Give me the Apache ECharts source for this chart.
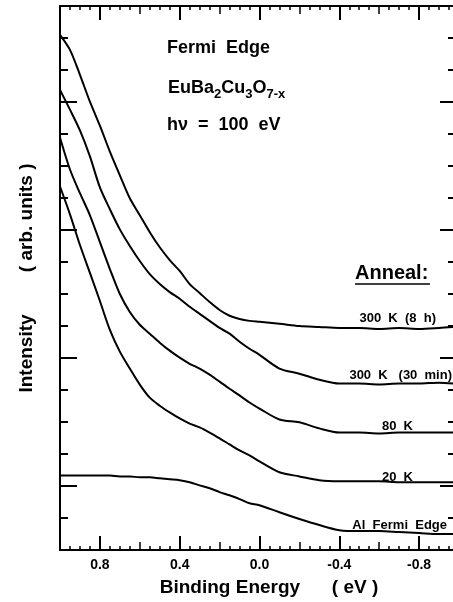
<!DOCTYPE html>
<html>
<head>
<meta charset="utf-8">
<script src="https://cdn.jsdelivr.net/npm/echarts@6/dist/echarts.min.js"></script>
<style>
html,body{margin:0;padding:0;background:#fff;}
#chart{width:453px;height:602px;}
</style>
</head>
<body>
<div id="chart"></div>
<script>
// Binding energy grid (eV)
const energies = [1.0,0.95,0.9,0.85,0.8,0.75,0.7,0.65,0.6,0.55,0.5,0.45,0.4,0.35,0.3,0.25,0.2,0.15,0.1,0.05,0.0,-0.1,-0.2,-0.3,-0.4,-0.5,-0.6,-0.7,-0.8,-0.9,-0.97];
// Intensity (arb. units, offset traces)
const anneal300K8h   = [16.10,15.63,14.85,14.01,13.26,12.45,11.71,10.99,10.46,9.93,9.46,9.06,8.72,8.31,8.03,7.75,7.50,7.32,7.22,7.16,7.13,7.07,7.00,6.97,6.94,6.94,6.91,6.94,6.91,6.94,6.97];
const anneal300K30m  = [14.38,13.76,13.11,12.30,11.33,10.65,10.02,9.50,9.03,8.62,8.31,8.06,7.85,7.60,7.38,7.16,6.94,6.76,6.51,6.29,6.10,5.67,5.51,5.32,5.20,5.20,5.17,5.20,5.20,5.23,5.20];
const anneal80K      = [12.89,11.89,11.15,10.46,9.62,8.78,8.00,7.44,7.04,6.76,6.48,6.23,6.01,5.82,5.67,5.48,5.26,5.04,4.83,4.61,4.42,4.08,3.99,3.80,3.67,3.67,3.64,3.67,3.67,3.67,3.67];
const anneal20K      = [11.36,10.49,9.53,8.66,7.78,6.88,6.20,5.67,5.17,4.76,4.51,4.30,4.11,3.95,3.83,3.67,3.49,3.30,3.11,2.96,2.77,2.43,2.30,2.18,2.15,2.15,2.15,2.12,2.12,2.12,2.12];
const alFermiEdge    = [2.33,2.33,2.33,2.33,2.33,2.33,2.30,2.30,2.27,2.27,2.24,2.21,2.18,2.12,2.02,1.93,1.81,1.71,1.59,1.46,1.40,1.18,0.97,0.78,0.62,0.59,0.59,0.56,0.53,0.50,0.50];

const seriesNames = ['300 K (8 h)','300 K (30 min)','80 K','20 K','Al Fermi Edge'];
const seriesValues = [anneal300K8h, anneal300K30m, anneal80K, anneal20K, alFermiEdge];

// Axis ticks
const xMajorTicks = [0.8,0.4,0.0,-0.4,-0.8];
const xMidTicks = [0.6,0.2,-0.2,-0.6];
const xMinorTicks = [0.95,0.9,0.85,0.75,0.7,0.65,0.55,0.5,0.45,0.35,0.3,0.25,0.15,0.1,0.05,-0.05,-0.1,-0.15,-0.25,-0.3,-0.35,-0.45,-0.5,-0.55,-0.65,-0.7,-0.75,-0.85,-0.9,-0.95];
const yLongTicks = [2,6,10,14];

const FONT = '"Liberation Sans", Arial, sans-serif';
const black = '#000';

const chart = echarts.init(document.getElementById('chart'), null, {renderer:'canvas'});

function xAx(opts){
  return Object.assign({
    type:'value', min:-0.97, max:1, inverse:true,
    splitLine:{show:false},
    axisLine:{show:false, onZero:false},
    axisLabel:{show:false},
    axisTick:{show:false}
  }, opts);
}
function yAx(opts){
  return Object.assign({
    type:'value', min:0, max:17,
    splitLine:{show:false},
    axisLine:{show:false, onZero:false},
    axisLabel:{show:false},
    axisTick:{show:false}
  }, opts);
}
function tick(len, vals, w){
  return {show:true, inside:true, length:len, customValues:vals, lineStyle:{color:black, width:w}};
}

const xAxes = [
  xAx({position:'bottom',
    axisLine:{show:true, onZero:false, lineStyle:{color:black, width:2}},
    axisTick:tick(14, xMajorTicks, 2),
    axisLabel:{show:true, customValues:xMajorTicks, margin:8,
      formatter:v=>Number(v).toFixed(1),
      color:black, fontFamily:FONT, fontWeight:'bold', fontSize:14},
    name:'Binding Energy      ( eV )', nameLocation:'middle', nameGap:28,
    nameTextStyle:{color:black, fontFamily:FONT, fontWeight:'bold', fontSize:19, padding:[0,0,0,25]}
  }),
  xAx({position:'bottom', axisTick:tick(8, xMidTicks, 1.5)}),
  xAx({position:'bottom', axisTick:tick(4, xMinorTicks, 1.5)}),
  xAx({position:'top',
    axisLine:{show:true, onZero:false, lineStyle:{color:black, width:2}},
    axisTick:tick(14, xMajorTicks, 2)
  }),
  xAx({position:'top', axisTick:tick(8, xMidTicks, 1.5)}),
  xAx({position:'top', axisTick:tick(4, xMinorTicks, 1.5)})
];

const yAxes = [
  yAx({position:'left', interval:1,
    axisLine:{show:true, onZero:false, lineStyle:{color:black, width:2}},
    axisTick:{show:true, inside:true, length:8, lineStyle:{color:black, width:2}},
    name:'Intensity        ( arb. units )', nameLocation:'middle', nameGap:24, nameRotate:90,
    nameTextStyle:{color:black, fontFamily:FONT, fontWeight:'bold', fontSize:19}
  }),
  yAx({position:'left', axisTick:tick(17, yLongTicks, 2)}),
  yAx({position:'right', interval:1,
    axisTick:{show:true, inside:true, length:5, lineStyle:{color:black, width:2}}
  }),
  yAx({position:'right', axisTick:tick(13, yLongTicks, 2)})
];

const series = seriesNames.map((name,i)=>({
  name:name, type:'line', xAxisIndex:0, yAxisIndex:0,
  data: energies.map((e,j)=>[e, seriesValues[i][j]]),
  showSymbol:false, smooth:0.3,
  lineStyle:{color:black, width:2},
  itemStyle:{color:black},
  z:5
}));

const labelFont = 'bold 13px ' + FONT;
const titleFont = 'bold 18px ' + FONT;

chart.setOption({
  animation:false,
  backgroundColor:'#fff',
  grid:{left:60, top:6, width:393, height:546},
  xAxis:xAxes,
  yAxis:yAxes,
  series:series,
  graphic:[
    {type:'text', x:167, y:48, style:{text:'Fermi  Edge', font:titleFont, fill:black, verticalAlign:'middle', align:'left'}},
    {type:'text', x:168, y:88, style:{
      text:'{n|EuBa}{s|2}{n|Cu}{s|3}{n|O}{s|7-x}',
      verticalAlign:'middle', align:'left',
      rich:{
        n:{fontFamily:FONT, fontWeight:'bold', fontSize:18, lineHeight:26, verticalAlign:'middle', fill:black, color:black},
        s:{fontFamily:FONT, fontWeight:'bold', fontSize:13, lineHeight:12, verticalAlign:'bottom', fill:black, color:black}
      }
    }},
    {type:'text', x:167, y:125, style:{text:'hν  =  100  eV', font:titleFont, fill:black, verticalAlign:'middle', align:'left'}},
    {type:'text', x:355, y:273, style:{text:'Anneal:', font:'bold 20px ' + FONT, fill:black, verticalAlign:'middle', align:'left'}},
    {type:'line', shape:{x1:355, y1:284, x2:430, y2:284}, style:{stroke:black, lineWidth:1.5}},
    {type:'text', x:436, y:318, style:{text:'300  K  (8  h)', font:labelFont, fill:black, verticalAlign:'middle', align:'right'}},
    {type:'text', x:452, y:375, style:{text:'300  K   (30  min)', font:labelFont, fill:black, verticalAlign:'middle', align:'right'}},
    {type:'text', x:413, y:426, style:{text:'80  K', font:labelFont, fill:black, verticalAlign:'middle', align:'right'}},
    {type:'text', x:413, y:477, style:{text:'20  K', font:labelFont, fill:black, verticalAlign:'middle', align:'right'}},
    {type:'text', x:447, y:525, style:{text:'Al  Fermi  Edge', font:labelFont, fill:black, verticalAlign:'middle', align:'right'}}
  ]
});
</script>
</body>
</html>
